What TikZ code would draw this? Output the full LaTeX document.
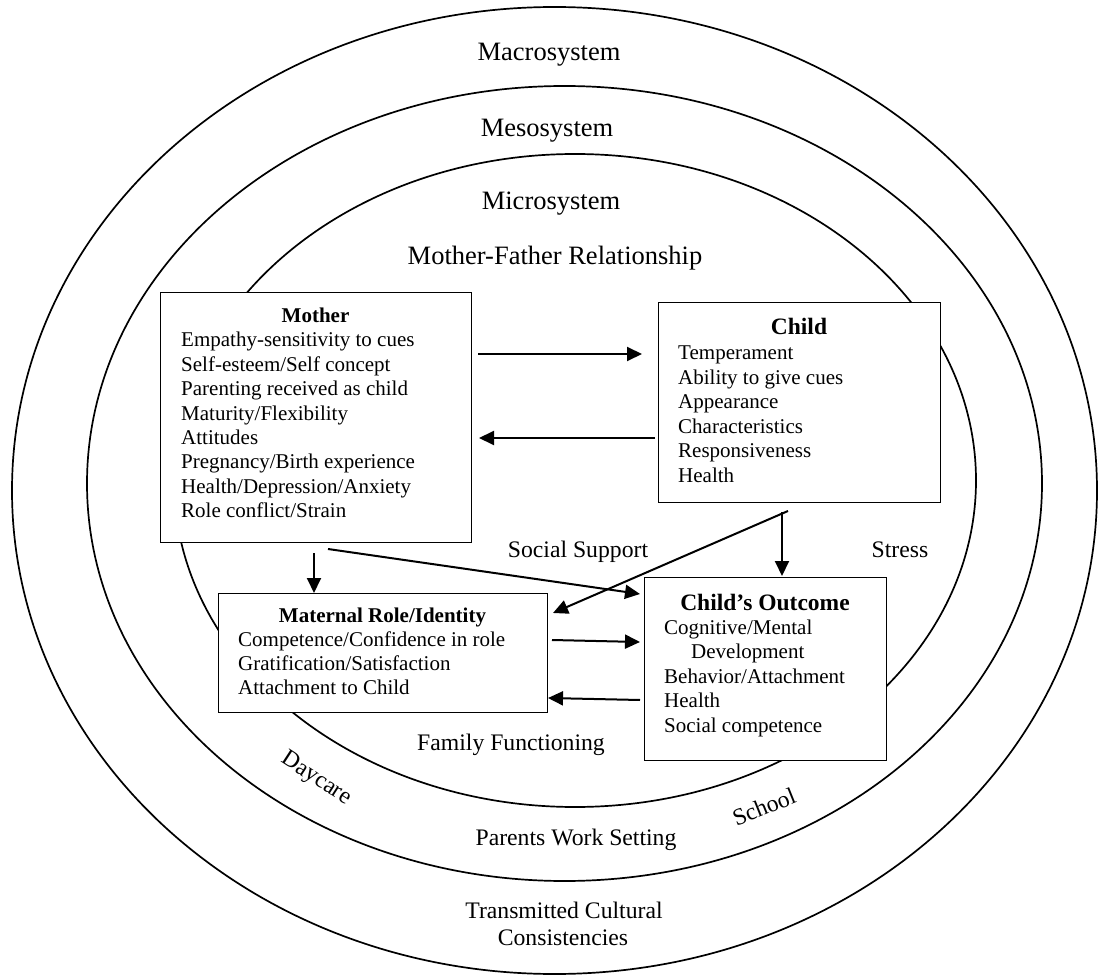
\documentclass[tikz,border=0pt]{standalone}
\usepackage{fontspec}
\setmainfont{Liberation Serif}
\usetikzlibrary{arrows.meta}
\newcommand\bxf{\fontsize{21pt}{24.5pt}\selectfont}
\newcommand\ttlf{\fontsize{23.5pt}{26pt}\selectfont\bfseries}
\newcommand\bigf{\fontsize{26.5pt}{30pt}\selectfont}
\newcommand\lblf{\fontsize{23.7pt}{27pt}\selectfont}
\tikzset{
  ring/.style={line width=1.7pt},
  boxnode/.style={draw, line width=1.4pt, fill=white, inner sep=0pt, anchor=north west},
  itemline/.style={anchor=base west, inner sep=0pt, font=\bxf},
  titlesm/.style={anchor=base, inner sep=0pt, font=\bxf\bfseries},
  titlebig/.style={anchor=base, inner sep=0pt, font=\ttlf},
  biglbl/.style={anchor=base, inner sep=0pt, font=\bigf},
  lbl/.style={anchor=base, inner sep=0pt, font=\lblf},
  arr/.style={line width=2pt, -{Triangle[length=15pt,width=14pt]}}
}
\begin{document}
\begin{tikzpicture}[x=1pt,y=-1pt]
\useasboundingbox (0,0) rectangle (1101,976);
% rings
\draw[ring] (554.5,490.5) ellipse [x radius=542.5pt, y radius=483.5pt];
\draw[ring] (564.5,483.5) ellipse [x radius=477.5pt, y radius=397.5pt];
\draw[ring] (575,480.5) ellipse [x radius=401pt, y radius=326.5pt];
% ring labels
\node[biglbl] (macro) at (549,61) {Macrosystem};
\node[biglbl] (meso) at (547,136.7) {Mesosystem};
\node[biglbl] (micro) at (551,209.3) {Microsystem};
\node[biglbl] (mfr) at (555,265) {Mother-Father Relationship};
\node[lbl] (social) at (578,557.7) {Social Support};
\node[lbl] (stress) at (900,557.7) {Stress};
\node[lbl] (family) at (511,750) {Family Functioning};
\node[lbl] (work) at (576,845) {Parents Work Setting};
\node[lbl] (trans1) at (564,918.3) {Transmitted Cultural};
\node[lbl] (trans2) at (563,945) {Consistencies};
\node[font=\lblf, inner sep=0pt, rotate=-33] (daycare) at (316,779) {Daycare};
\node[font=\lblf, inner sep=0pt, rotate=22] (school) at (764,807) {School};
% boxes
\node[boxnode, minimum width=311pt, minimum height=250pt] (mother) at (160,292) {};
\node[boxnode, minimum width=282pt, minimum height=200pt] (child) at (658,302) {};
\node[boxnode, minimum width=329pt, minimum height=119pt] (maternal) at (218,593) {};
\node[boxnode, minimum width=242pt, minimum height=183pt] (outcome) at (644,577) {};
% box texts
\node[titlesm] (mothert) at (315.5,322.7) {Mother};
\foreach \t [count=\i from 0] in {Empathy-sensitivity to cues,Self-esteem/Self concept,Parenting received as child,Maturity/Flexibility,Attitudes,Pregnancy/Birth experience,Health/Depression/Anxiety,Role conflict/Strain}
  \node[itemline] (m\i) at (181,{346.7+24.45*\i}) {\t};
\node[titlebig] (childt) at (799,335) {Child};
\foreach \t [count=\i from 0] in {Temperament,Ability to give cues,Appearance,Characteristics,Responsiveness,Health}
  \node[itemline] (c\i) at (678,{360+24.4*\i}) {\t};
\node[titlesm] (maternalt) at (382.5,622.7) {Maternal Role/Identity};
\foreach \t [count=\i from 0] in {Competence/Confidence in role,Gratification/Satisfaction,Attachment to Child}
  \node[itemline] (r\i) at (238,{646+24.4*\i}) {\t};
\node[titlebig] (outcomet) at (765,610) {Child’s Outcome};
\node[itemline] (o0) at (664,634) {Cognitive/Mental};
\node[itemline] (o1) at (691,658.5) {Development};
\node[itemline] (o2) at (664,683) {Behavior/Attachment};
\node[itemline] (o3) at (664,707.5) {Health};
\node[itemline] (o4) at (664,732) {Social competence};
% arrow end points
\coordinate (a1s) at (478,354); \coordinate (a1e) at (642,354);
\coordinate (a2s) at (655,438); \coordinate (a2e) at (479,438);
\coordinate (a3s) at (314,553); \coordinate (a3e) at (314,593);
\coordinate (a4s) at (328,549); \coordinate (a4e) at (640,594);
\coordinate (a5s) at (782,512); \coordinate (a5e) at (782,576);
\coordinate (a6s) at (788,511); \coordinate (a6e) at (553,613);
\coordinate (a7s) at (552,640); \coordinate (a7e) at (640,642);
\coordinate (a8s) at (640,700); \coordinate (a8e) at (548,698);
\draw[arr] (a1s) -- (a1e);
\draw[arr] (a2s) -- (a2e);
\draw[arr] (a3s) -- (a3e);
\draw[arr] (a4s) -- (a4e);
\draw[arr] (a5s) -- (a5e);
\draw[arr] (a6s) -- (a6e);
\draw[arr] (a7s) -- (a7e);
\draw[arr] (a8s) -- (a8e);
\end{tikzpicture}
\end{document}
